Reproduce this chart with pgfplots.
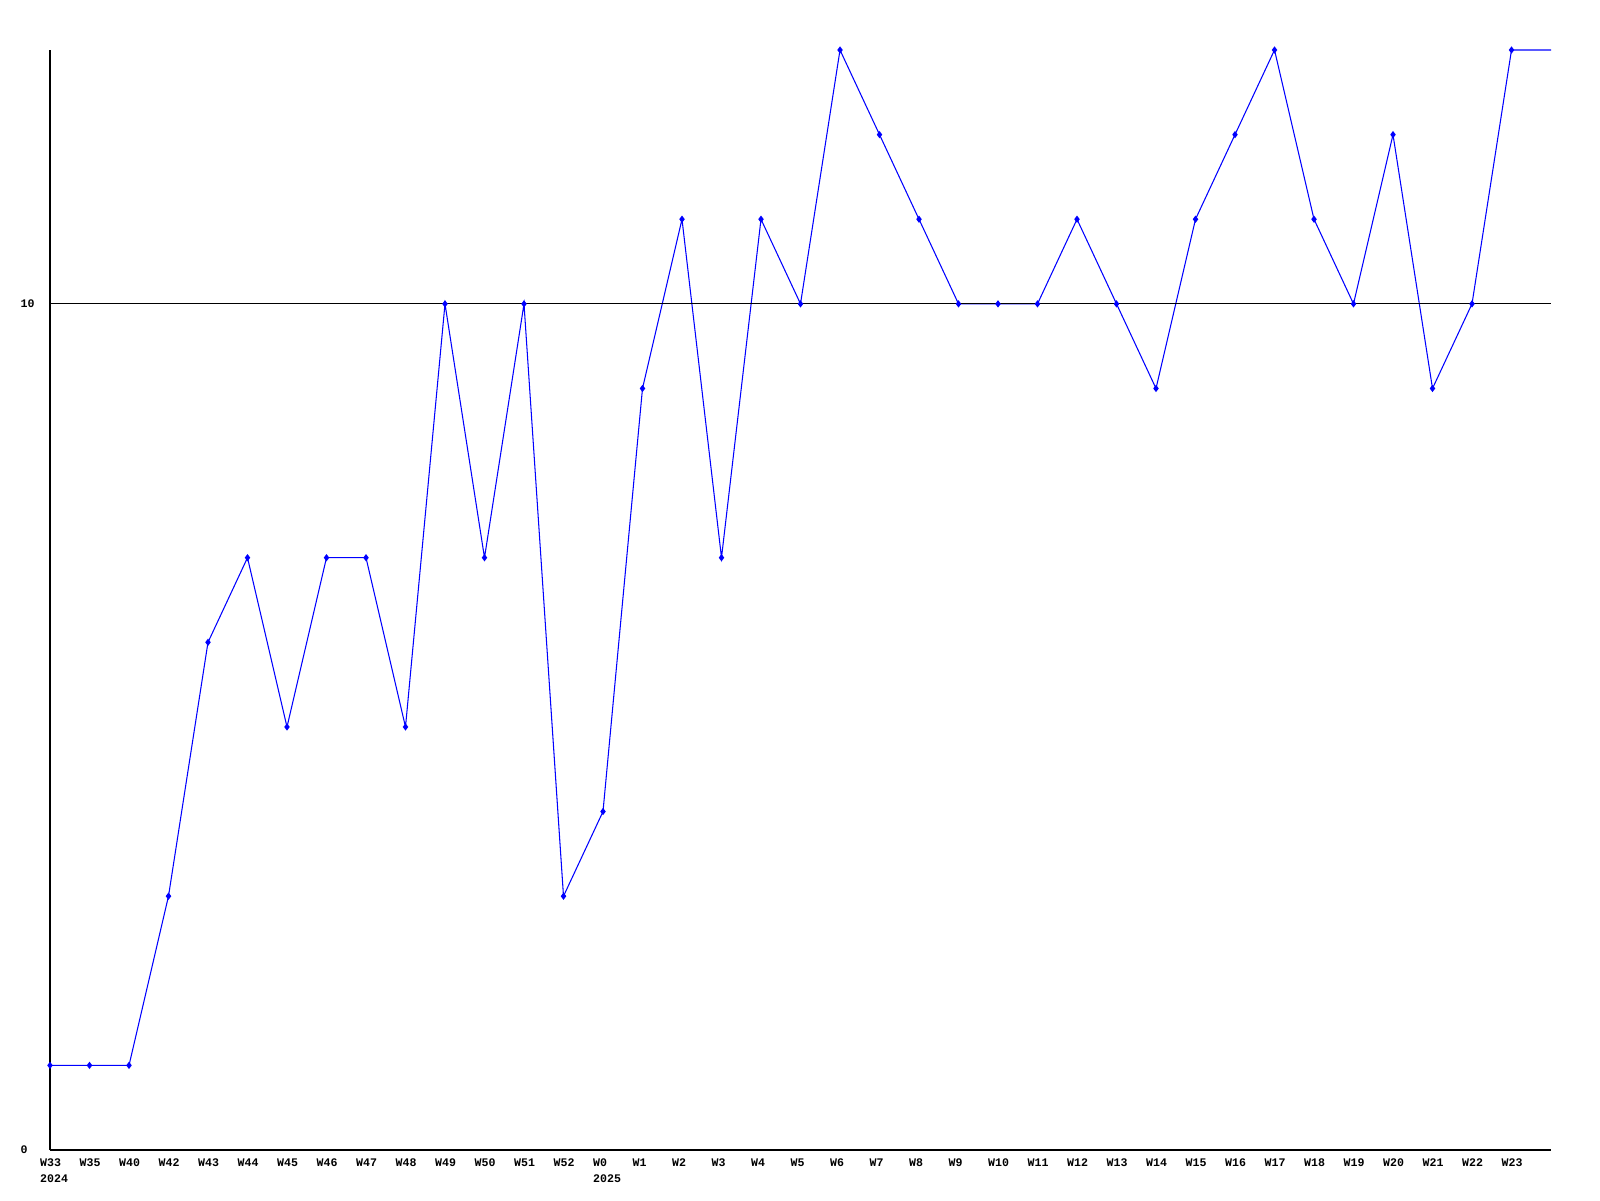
\documentclass[border=0pt]{standalone}
\usepackage{fontspec}
\setmonofont{Liberation Mono}
\usepackage{pgfplots}
\pgfplotsset{compat=1.18}
\definecolor{pblue}{RGB}{0,0,255}
\begin{document}
\begin{tikzpicture}
\begin{axis}[
  name=ax, at={(0,0)}, anchor=south west,
  scale only axis, width=150.1mm, height=110mm,
  xmin=0, xmax=38, ymin=0, ymax=13,
  axis x line=bottom, axis y line=left,
  axis line style={-, line width=0.3pt, black},
  major tick length=0pt,
  xtick={0,...,37},
  xticklabels={{W33\\2024},W35,W40,W42,W43,W44,W45,W46,W47,W48,W49,W50,W51,W52,{W0\\2025},W1,W2,W3,W4,W5,W6,W7,W8,W9,W10,W11,W12,W13,W14,W15,W16,W17,W18,W19,W20,W21,W22,W23},
  ytick={0,10},
  yticklabels={0,10},
  xticklabel style={font=\ttfamily\bfseries\fontsize{3.3}{4.3}\selectfont, align=left, anchor=north west, inner sep=0pt, xshift=-1.05mm, yshift=-0.85mm},
  yticklabel style={font=\ttfamily\bfseries\fontsize{3.3}{4.3}\selectfont, anchor=west, inner sep=0pt, xshift=-3mm},
  clip=false,
]
\addplot[pblue, line width=0.3pt, no marks] coordinates {
(0,1)(1,1)(2,1)(3,3)(4,6)(5,7)(6,5)(7,7)(8,7)(9,5)(10,10)(11,7)(12,10)(13,3)(14,4)(15,9)(16,11)(17,7)(18,11)(19,10)(20,13)(21,12)(22,11)(23,10)(24,10)(25,10)(26,11)(27,10)(28,9)(29,11)(30,12)(31,13)(32,11)(33,10)(34,12)(35,9)(36,10)(37,13)(38,13)};
\addplot[black, line width=0.35pt, no marks] coordinates {(0,10)(38,10)};
\addplot[pblue, only marks, mark=diamond*, mark size=0.25mm] coordinates {
(0,1)(1,1)(2,1)(3,3)(4,6)(5,7)(6,5)(7,7)(8,7)(9,5)(10,10)(11,7)(12,10)(13,3)(14,4)(15,9)(16,11)(17,7)(18,11)(19,10)(20,13)(21,12)(22,11)(23,10)(24,10)(25,10)(26,11)(27,10)(28,9)(29,11)(30,12)(31,13)(32,11)(33,10)(34,12)(35,9)(36,10)(37,13)};
\end{axis}
\path[use as bounding box] (-5mm,-5mm) rectangle (155mm,115mm);
\end{tikzpicture}
\end{document}
